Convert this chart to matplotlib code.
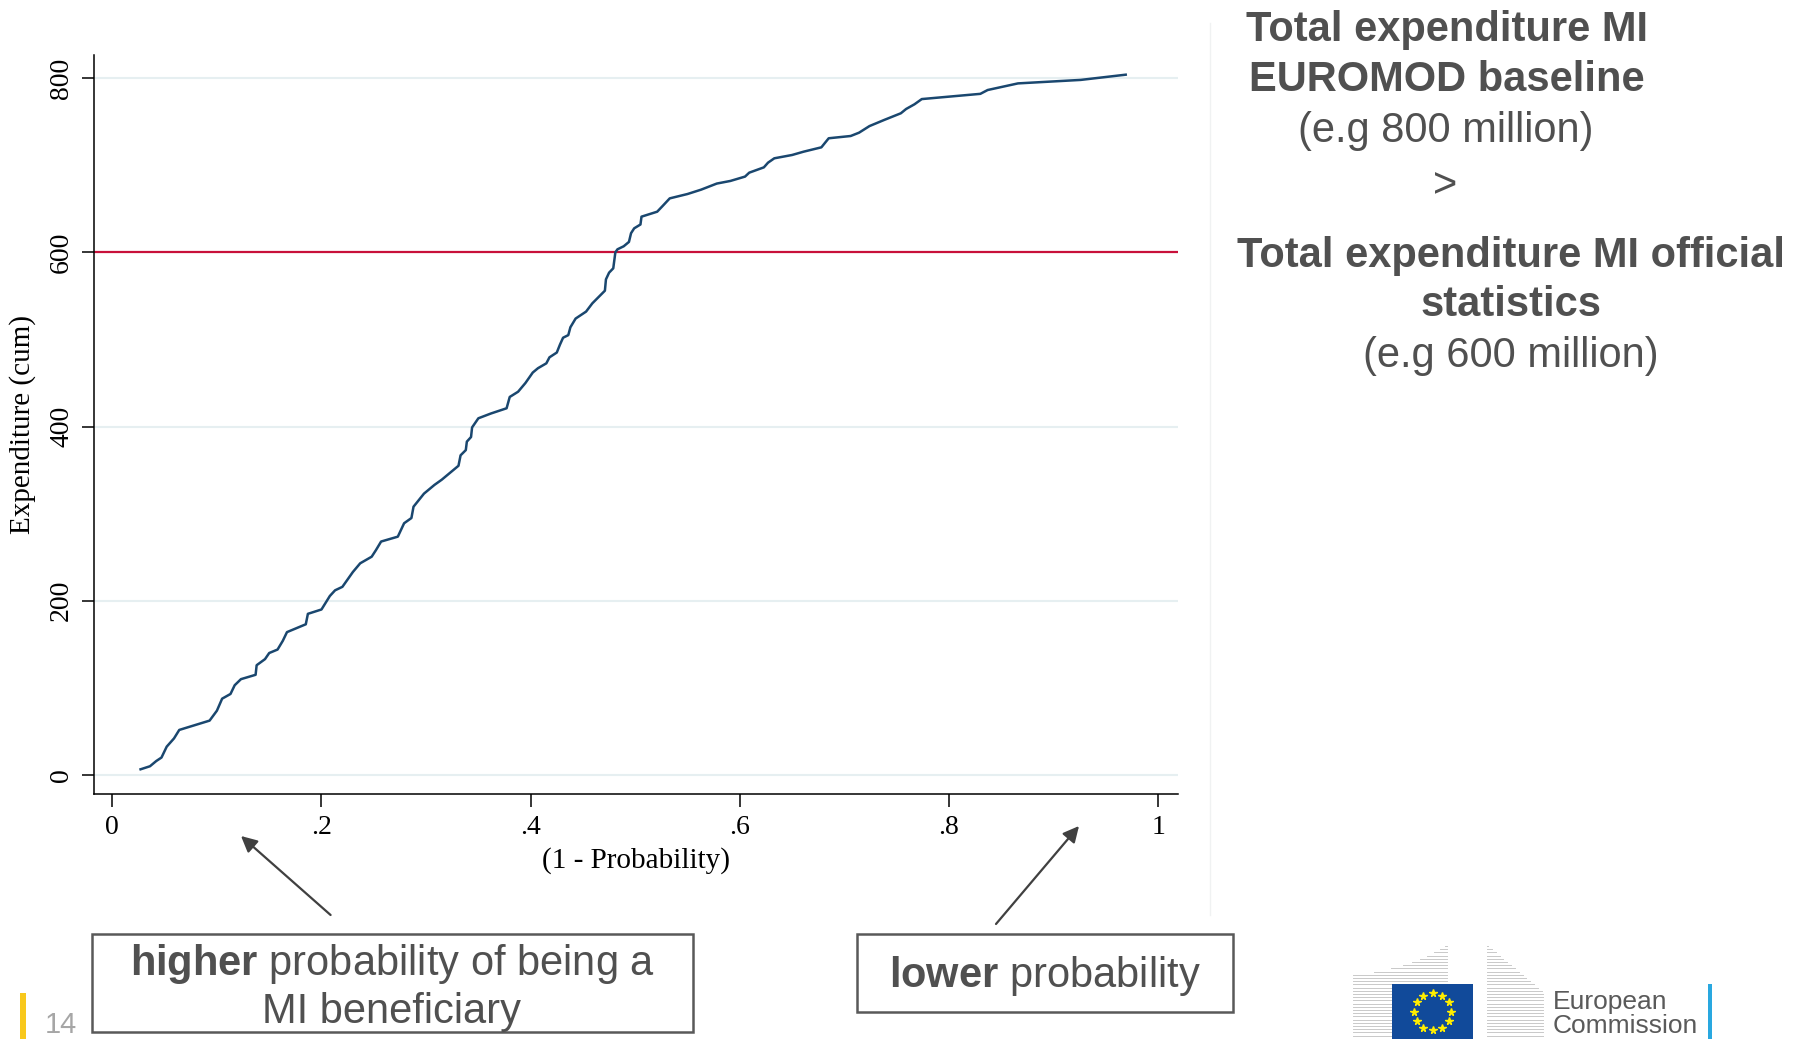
import matplotlib
matplotlib.use('Agg')
import matplotlib.pyplot as plt
from matplotlib.lines import Line2D
from matplotlib.patches import Rectangle, FancyArrowPatch
import numpy as np

# ---------------- data ----------------
x_prob = [0.027, 0.036, 0.042, 0.047, 0.052, 0.059, 0.064, 0.093, 0.100, 0.105,
          0.113, 0.117, 0.123, 0.137, 0.138, 0.146, 0.150, 0.158, 0.163, 0.167,
          0.185, 0.187, 0.200, 0.208, 0.213, 0.220, 0.230, 0.237, 0.248, 0.252,
          0.257, 0.273, 0.279, 0.286, 0.288, 0.298, 0.308, 0.315, 0.331, 0.333,
          0.338, 0.339, 0.343, 0.344, 0.350, 0.362, 0.377, 0.380, 0.388, 0.395,
          0.402, 0.407, 0.415, 0.418, 0.425, 0.428, 0.431, 0.436, 0.438, 0.443,
          0.453, 0.459, 0.471, 0.472, 0.475, 0.479, 0.481, 0.483, 0.489, 0.494,
          0.496, 0.499, 0.505, 0.506, 0.521, 0.526, 0.533, 0.550, 0.563, 0.578,
          0.591, 0.605, 0.609, 0.623, 0.627, 0.633, 0.650, 0.661, 0.678, 0.685,
          0.706, 0.714, 0.724, 0.738, 0.754, 0.759, 0.767, 0.774, 0.830, 0.837,
          0.866, 0.926, 0.969]
y_cum = [6.5, 10, 16, 20, 32.5, 42, 51.7, 62.4, 73.8, 87.6,
         93, 103, 110, 115, 126, 133, 140, 144, 154, 164,
         173, 185, 190, 205.5, 212, 216, 233, 243, 250.6, 258,
         268, 273.6, 289, 295, 308, 323, 333, 339, 355, 367,
         373, 382.7, 388, 399, 409.5, 415, 421, 434, 440, 450,
         462, 467, 472.6, 479.5, 485, 494, 502, 505, 514, 524,
         532, 541.5, 556, 569, 576.7, 581.7, 600, 603.5, 607, 612,
         622, 627.6, 632, 641, 646.7, 653, 662, 667, 672, 679,
         682, 687, 691.5, 697.6, 703, 708, 711.8, 715.6, 720.6, 731,
         733.6, 737.4, 745, 752, 759.7, 764.6, 770, 776, 782, 786.4,
         794, 798, 804]
official_total = 600
y_ticks = [0, 200, 400, 600, 800]
y_tick_labels = ['0', '200', '400', '600', '800']
x_ticks = [0, 0.2, 0.4, 0.6, 0.8, 1.0]
x_tick_labels = ['0', '.2', '.4', '.6', '.8', '1']
x_title = '(1 - Probability)'
y_title = 'Expenditure (cum)'

# ---------------- layout ----------------
W, H = 1800, 1039
fig = plt.figure(figsize=(18, 10.39), dpi=100)
fig.patch.set_facecolor('white')

plt.rcParams['mathtext.fontset'] = 'custom'
plt.rcParams['mathtext.bf'] = 'Liberation Sans:bold'
plt.rcParams['mathtext.rm'] = 'Liberation Sans'


def fx(x):
    return x / W


def fy(y):
    return 1 - y / H


ax = fig.add_axes([fx(93.5), fy(794.3), fx(1178) - fx(93.5), fy(55) - fy(794.3)])
ax.set_xlim(-0.018, 1.019)
ax.set_ylim(-22.2, 826.6)

for t in y_ticks:
    if t != official_total:
        ax.axhline(t, color='#e6eff1', lw=1.5, zorder=1)
ax.axhline(official_total, color='#c8103a', lw=1.6, zorder=2)
ax.plot(x_prob, y_cum, color='#1a476f', lw=1.8, zorder=3, solid_joinstyle='round')

for s in ['top', 'right']:
    ax.spines[s].set_visible(False)
for s in ['left', 'bottom']:
    ax.spines[s].set_color('black')
    ax.spines[s].set_linewidth(1.1)

serif = 'Liberation Serif'
ax.set_xticks(x_ticks)
ax.set_xticklabels(x_tick_labels, fontfamily=serif, fontsize=20)
ax.set_yticks(y_ticks)
ax.set_yticklabels(y_tick_labels, fontfamily=serif, fontsize=20, rotation=90, va='center')
ax.tick_params(axis='both', length=9, width=1.1, color='black', labelcolor='black')
ax.tick_params(axis='x', pad=6)
ax.tick_params(axis='y', pad=5)

ax.set_xlabel(x_title, fontfamily=serif, fontsize=21, va='center')
ax.xaxis.set_label_coords(0.5, -0.089)
ax.set_ylabel(y_title, fontfamily=serif, fontsize=21, va='center', ha='center')
ax.yaxis.set_label_coords(-0.065, 0.5)

# faint separator line
fig.add_artist(Line2D([fx(1210), fx(1210)], [fy(23), fy(915)], color='#f0f2f2', lw=1.0,
                      transform=fig.transFigure))

# ---------------- right text block ----------------
tc = '#505050'
sans = 'Liberation Sans'
right_lines = [
    ('Total expenditure MI', 1447, 40.7, 'bold'),
    ('EUROMOD baseline', 1447, 90.7, 'bold'),
    ('(e.g 800 million)', 1446, 142, 'normal'),
    ('>', 1445, 197, 'normal'),
    ('Total expenditure MI official', 1511, 267, 'bold'),
    ('statistics', 1511, 316, 'bold'),
    ('(e.g 600 million)', 1511, 367, 'normal'),
]
for txt, x, y, w in right_lines:
    fig.text(fx(x), fy(y), txt, ha='center', va='baseline', fontsize=30,
             fontfamily=sans, fontweight=w, color=tc)

# ---------------- annotation boxes ----------------
fig.add_artist(Rectangle((fx(92), fy(1032)), fx(693) - fx(92), fy(934) - fy(1032),
                         transform=fig.transFigure, fill=False, ec='#595959', lw=1.8))
fig.text(fx(392), fy(975), r'$\mathbf{higher}$ probability of being a', ha='center',
         va='baseline', fontsize=30, fontfamily=sans, color=tc)
fig.text(fx(392), fy(1023), 'MI beneficiary', ha='center', va='baseline', fontsize=30,
         fontfamily=sans, color=tc)

fig.add_artist(Rectangle((fx(857), fy(1012)), fx(1233) - fx(857), fy(934) - fy(1012),
                         transform=fig.transFigure, fill=False, ec='#595959', lw=1.8))
fig.text(fx(1045), fy(987), r'$\mathbf{lower}$ probability', ha='center',
         va='baseline', fontsize=30, fontfamily=sans, color=tc)

for (x0, y0), (x1, y1) in [((330.6, 915), (241, 836)), ((996, 924), (1079, 826))]:
    fig.add_artist(FancyArrowPatch((fx(x0), fy(y0)), (fx(x1), fy(y1)),
                                   transform=fig.transFigure, arrowstyle='-|>',
                                   mutation_scale=24, color='#404040', lw=1.6,
                                   shrinkA=0, shrinkB=0))

# ---------------- page number ----------------
fig.add_artist(Rectangle((fx(20), fy(1039)), fx(26) - fx(20), fy(993) - fy(1039),
                         transform=fig.transFigure, color='#f8c81c', lw=0))
fig.text(fx(45), fy(1033), '14', ha='left', va='baseline', fontsize=21,
         fontfamily=sans, color='#a6a6a6')

# ---------------- EC logo ----------------
lc = '#c9c9c9'
for yy in np.arange(946, 1040, 3.2):
    if yy >= 973:
        xs = 1353
    else:
        t = (973 - yy) / 28.0
        xs = 1353 + 94 * (t ** 0.5)
    fig.add_artist(Line2D([fx(xs), fx(1447)], [fy(yy), fy(yy)], color=lc, lw=0.7,
                          transform=fig.transFigure))
    xe = min(1543, 1487 + (yy - 945) * 56 / 47)
    if xe > 1488:
        fig.add_artist(Line2D([fx(1487), fx(xe)], [fy(yy), fy(yy)], color=lc, lw=0.7,
                              transform=fig.transFigure))
fig.add_artist(Rectangle((fx(1392), fy(1039)), fx(1473) - fx(1392), fy(984) - fy(1039),
                         transform=fig.transFigure, color='#114a9a', lw=0, zorder=5))
ang = np.linspace(0, 2 * np.pi, 13)[:-1]
sx = [fx(1432.7 + 18.5 * np.cos(a)) for a in ang]
sy = [fy(1011.7 + 18.5 * np.sin(a)) for a in ang]
fig.add_artist(Line2D(sx, sy, ls='none', marker='*', ms=5.5, color='#ffed00', mec='#ffed00',
                      transform=fig.transFigure, zorder=6))
fig.text(fx(1553), fy(1009), 'European', ha='left', va='baseline', fontsize=19,
         fontfamily=sans, color='#5a5a5a')
fig.text(fx(1553), fy(1033), 'Commission', ha='left', va='baseline', fontsize=19,
         fontfamily=sans, color='#5a5a5a')
fig.add_artist(Rectangle((fx(1708), fy(1039)), fx(1712) - fx(1708), fy(984) - fy(1039),
                         transform=fig.transFigure, color='#29a8e0', lw=0))

fig.savefig('out.png', dpi=100, facecolor='white')
